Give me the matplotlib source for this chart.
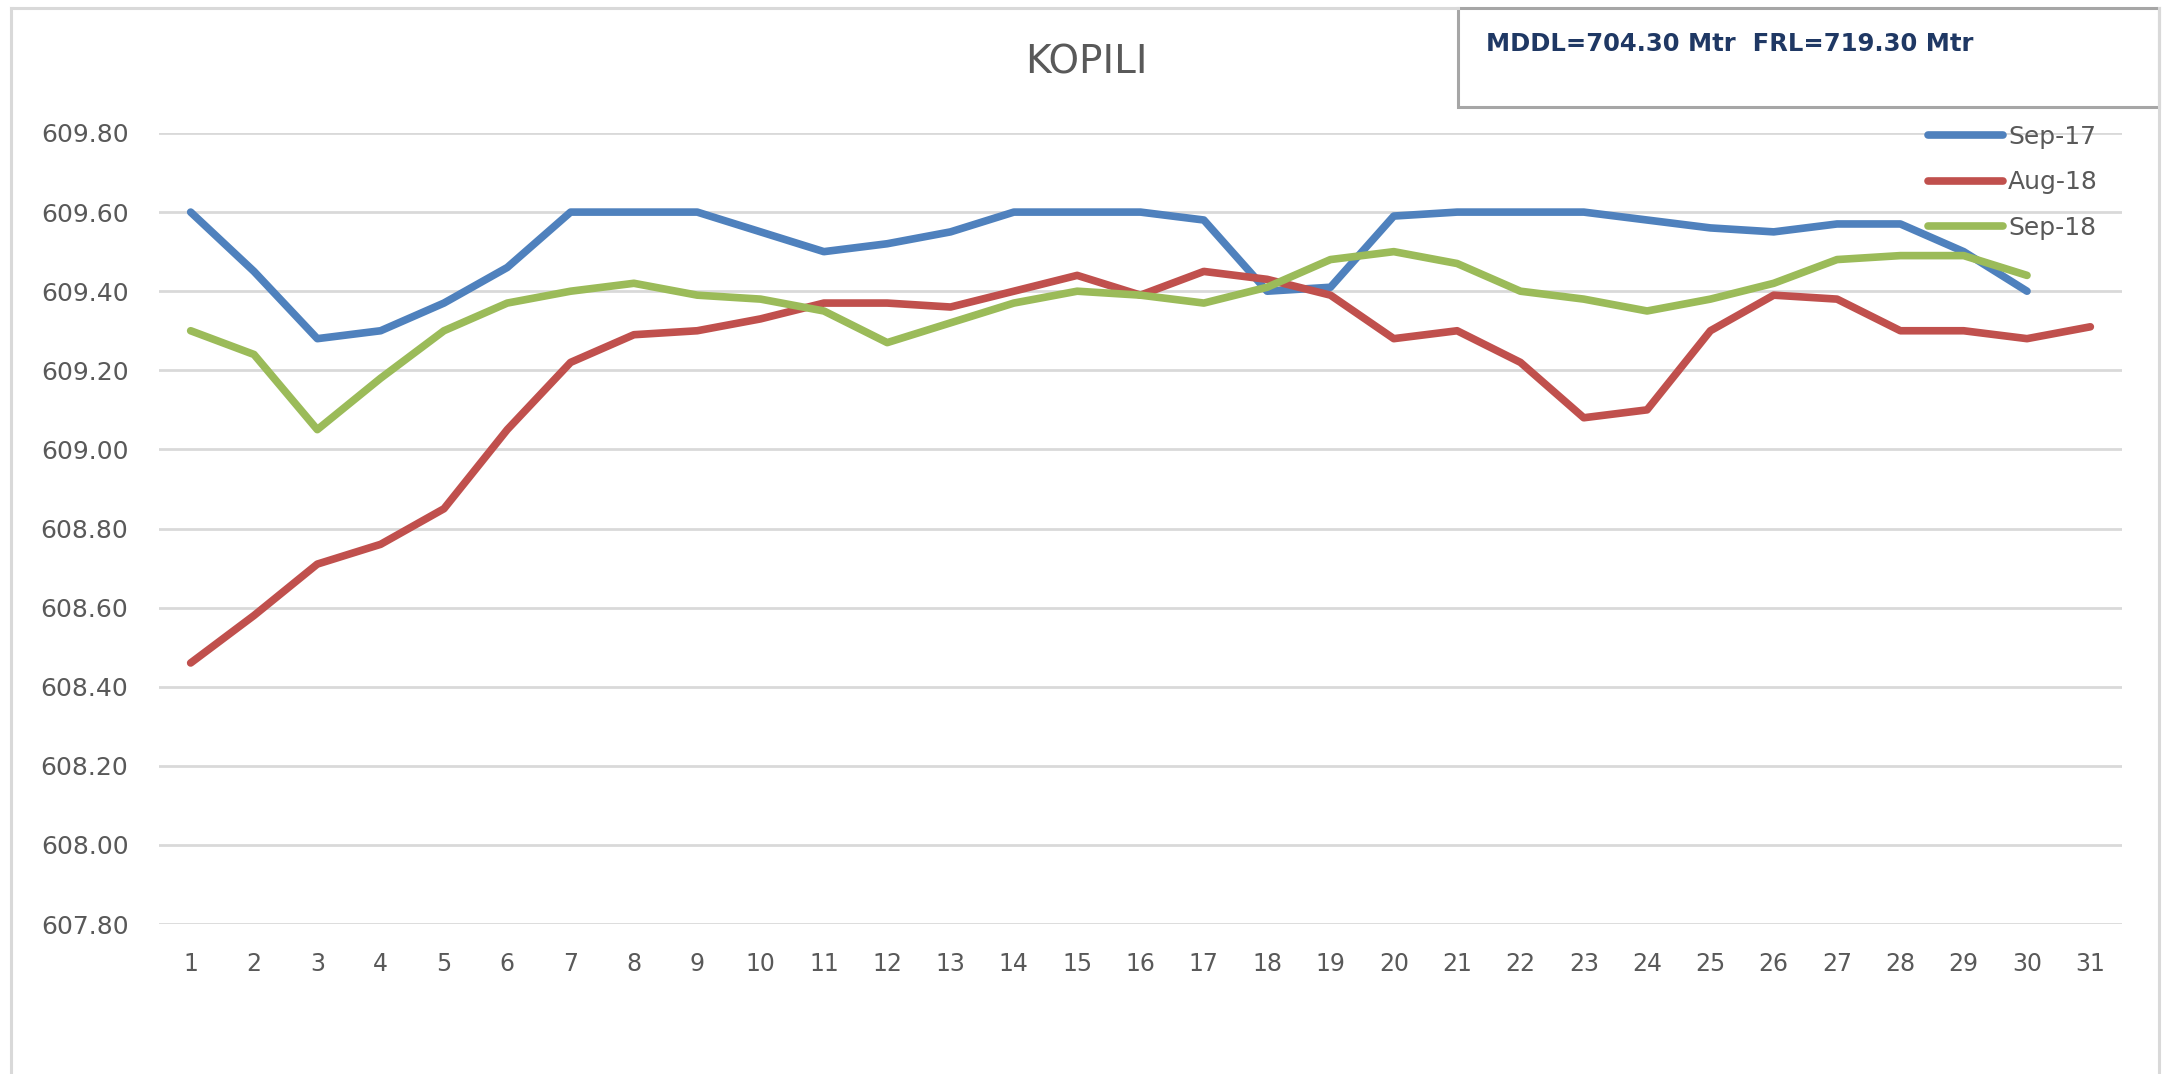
import numpy as np
import matplotlib.pyplot as plt
from matplotlib.patches import Rectangle
from matplotlib.lines import Line2D

# day of month
days = list(range(1, 32))

# reservoir level (m)
sep17 = [609.60, 609.45, 609.28, 609.30, 609.37, 609.46, 609.60, 609.60, 609.60, 609.55,
         609.50, 609.52, 609.55, 609.60, 609.60, 609.60, 609.58, 609.40, 609.41, 609.59,
         609.60, 609.60, 609.60, 609.58, 609.56, 609.55, 609.57, 609.57, 609.50, 609.40,
         np.nan]
aug18 = [608.46, 608.58, 608.71, 608.76, 608.85, 609.05, 609.22, 609.29, 609.30, 609.33,
         609.37, 609.37, 609.36, 609.40, 609.44, 609.39, 609.45, 609.43, 609.39, 609.28,
         609.30, 609.22, 609.08, 609.10, 609.30, 609.39, 609.38, 609.30, 609.30, 609.28,
         609.31]
sep18 = [609.30, 609.24, 609.05, 609.18, 609.30, 609.37, 609.40, 609.42, 609.39, 609.38,
         609.35, 609.27, 609.32, 609.37, 609.40, 609.39, 609.37, 609.41, 609.48, 609.50,
         609.47, 609.40, 609.38, 609.35, 609.38, 609.42, 609.48, 609.49, 609.49, 609.44,
         np.nan]

series_names = ["Sep-17", "Aug-18", "Sep-18"]
y_ticks = [607.80, 608.00, 608.20, 608.40, 608.60, 608.80, 609.00, 609.20, 609.40, 609.60, 609.80]
title = "KOPILI"
note = "MDDL=704.30 Mtr  FRL=719.30 Mtr"

W, H = 2163, 1074
fig = plt.figure(figsize=(W/100, H/100), dpi=100)
fig.patch.set_facecolor("white")

# outer chart border
fig.add_artist(Line2D([11/W, 11/W], [0, 1-8/H], color="#d9d9d9", lw=2.2))
fig.add_artist(Line2D([11/W, 1458/W], [1-8/H, 1-8/H], color="#d9d9d9", lw=2.2))
fig.add_artist(Line2D([2159/W, 2159/W], [0, 1-8/H], color="#d9d9d9", lw=2.2))

ax = fig.add_axes([159/W, 1-924/H, (2122-159)/W, (924-133)/H])

colors = ["#4F81BD", "#C0504D", "#9BBB59"]
for vals, name, c in zip([sep17, aug18, sep18], series_names, colors):
    ax.plot(days, vals, color=c, lw=5.5, label=name, solid_capstyle="round",
            solid_joinstyle="round", zorder=3)

ax.set_xlim(0.5, 31.5)
ax.set_ylim(607.80, 609.80)
ax.set_yticks(y_ticks)
ax.set_yticklabels(["%.2f" % v for v in y_ticks])
ax.set_xticks(days)
ax.grid(axis="y", color="#d9d9d9", lw=2, zorder=0)
ax.set_axisbelow(True)
for s in ax.spines.values():
    s.set_visible(False)
ax.tick_params(axis="both", length=0, colors="#595959")
ax.tick_params(axis="y", labelsize=18, pad=22)
ax.tick_params(axis="x", labelsize=17, pad=20)

fig.text(1086/W, 1-63/H, title, fontsize=28, color="#595959", ha="center", va="center")

leg = ax.legend(loc="upper left", bbox_to_anchor=(1928/W, 1-125/H), bbox_transform=fig.transFigure,
                frameon=False, fontsize=18, handlelength=3, handletextpad=0.2,
                labelspacing=0.85, borderpad=0, borderaxespad=0)
for t in leg.get_texts():
    t.set_color("#595959")

# info box top right
fig.add_artist(Rectangle((1458/W, 1-107/H), (2159-1458)/W, (107-8)/H, transform=fig.transFigure,
                         facecolor="white", edgecolor="#a6a6a6", lw=2.2))
fig.text(1486/W, 1-44/H, note, fontsize=17.5, fontweight="bold", color="#1F3864",
         ha="left", va="center")

fig.savefig("out.png", dpi=100)
